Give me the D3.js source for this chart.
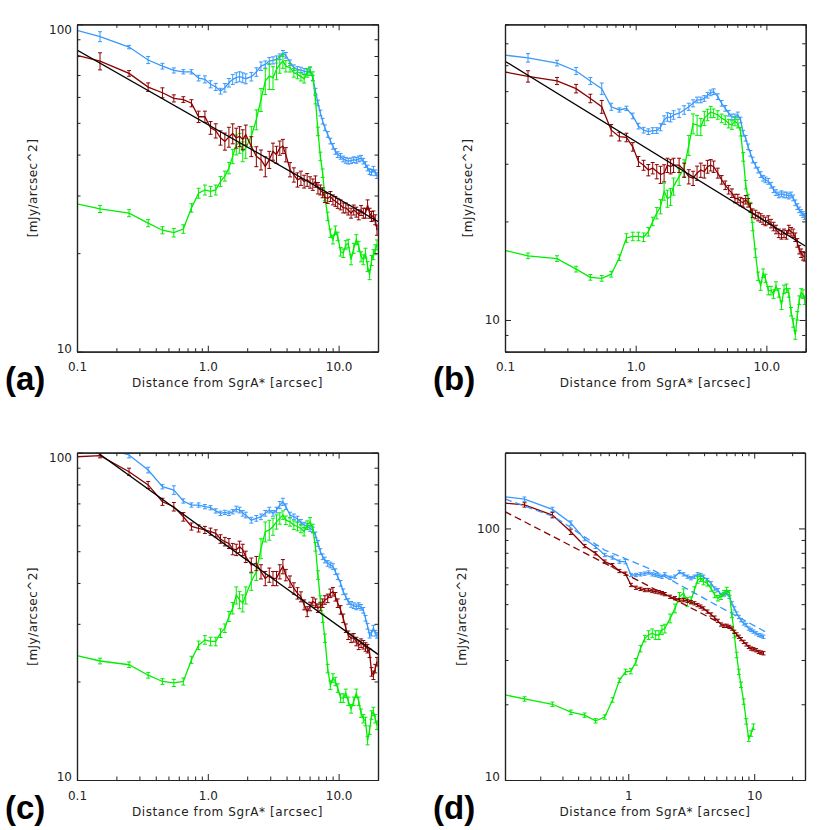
<!DOCTYPE html>
<html>
<head>
<meta charset="utf-8">
<script src="https://cdn.jsdelivr.net/npm/d3@7"></script>
<style>
  body { margin: 0; background: #fff; }
  svg { display: block; }
</style>
</head>
<body>
<svg id="chart" width="830" height="830"></svg>
<script>
// radius grid [arcsec] for panels a, b, c
const xGrid = [0.1, 0.15, 0.25, 0.35, 0.45, 0.55, 0.65, 0.75, 0.85, 0.95,
  1.05, 1.15, 1.25, 1.35, 1.45, 1.55, 1.65, 1.75, 1.85, 1.95,
  2.15, 2.35, 2.55, 2.75, 2.95, 3.15, 3.35, 3.55, 3.75, 3.95,
  4.25, 4.55, 4.85, 5.15, 5.45, 5.75, 6.05, 6.35, 6.65, 6.95,
  7.25, 7.55, 7.85, 8.25, 8.65, 9.05, 9.45, 9.85, 10.35, 10.85, 11.35, 11.85,
  12.45, 13.05, 13.65, 14.25, 14.85, 15.45, 16.05, 16.65, 17.25, 17.85, 18.45, 19.05, 19.65];

// panel d stops earlier
const xGridD = [0.105, 0.15, 0.25, 0.35, 0.45, 0.55, 0.65, 0.75, 0.85, 0.95,
  1.05, 1.15, 1.25, 1.35, 1.45, 1.55, 1.65, 1.75, 1.85, 1.95,
  2.15, 2.35, 2.55, 2.75, 2.95, 3.15, 3.35, 3.55, 3.75, 3.95,
  4.25, 4.55, 4.85, 5.15, 5.45, 5.75, 6.05, 6.35, 6.65, 6.95,
  7.25, 7.55, 7.85, 8.25, 8.65, 9.05, 9.45, 9.85, 10.35, 10.85, 11.35, 11.85];
const xGridDGreen = [0.105, 0.15, 0.25, 0.35, 0.45, 0.55, 0.65, 0.75, 0.85, 0.95,
  1.05, 1.15, 1.25, 1.35, 1.45, 1.55, 1.65, 1.75, 1.85, 1.95,
  2.15, 2.35, 2.55, 2.75, 2.95, 3.15, 3.35, 3.55, 3.75, 3.95,
  4.25, 4.55, 4.85, 5.15, 5.45, 5.75, 6.05, 6.35, 6.65, 6.95,
  7.25, 7.55, 7.85, 8.25, 8.65, 9.05, 9.45, 9.85];

// ---- panel a [mJy/arcsec^2], errors in percent
const blueA = [95.9, 91.7, 85.2, 77.8, 74.5, 72.3, 71.6, 71.6, 68.5, 67.9,
  65.6, 64.4, 62.5, 64.0, 66.3, 67.9, 68.7, 69.2, 68.7, 68.2,
  69.2, 71.5, 74.5, 75.4, 77.2, 77.6, 78.1, 79.6, 81.5, 80.4,
  76.3, 73.7, 72.8, 72.5, 71.9, 71.5, 72.5, 68.5, 62.5, 57.5,
  53.6, 50.6, 48.3, 46.1, 44.0, 42.4, 40.9, 40.0, 39.5, 38.8, 38.4, 38.2,
  38.3, 38.6, 38.4, 38.8, 39.0, 38.2, 37.3, 36.4, 35.5, 35.3, 36.1, 35.2, 34.5];
const blueErrA = [0, 3.5, 1.2, 2.5, 2, 1.8, 1.5, 1.5, 2, 2.5,
  2.5, 2.5, 2, 3, 3, 3.5, 3.5, 3.5, 3.5, 3.5,
  3, 3, 3, 2.5, 2.5, 2.5, 2.5, 2, 2, 2,
  2, 2, 2, 2, 2, 2, 2, 2, 2, 2,
  2, 2, 2, 2, 2, 2, 2, 2, 2, 2, 2, 2,
  2, 2, 2, 2, 2, 2, 2, 2, 2, 2, 2, 2, 2];
const redA = [80.4, 77.2, 70.8, 64.3, 61.8, 59.4, 58.9, 57.4, 52.2, 52.2,
  48.3, 47.3, 45.0, 43.9, 45.3, 46.4, 45.0, 45.5, 44.5, 46.0,
  42.4, 39.5, 38.6, 36.8, 38.6, 40.9, 40.0, 41.9, 42.4, 40.0,
  36.0, 34.7, 33.5, 33.9, 33.1, 33.5, 32.9, 32.4, 33.1, 31.6,
  31.2, 30.6, 29.6, 29.4, 29.8, 29.1, 28.8, 28.4, 28.1, 27.5, 27.5, 27.1,
  26.5, 27.1, 26.7, 26.2, 27.0, 26.5, 26.5, 28.1, 26.5, 25.9, 26.0, 25.3, 23.5];
const redErrA = [0, 6, 2, 3, 3.5, 2.5, 2, 2.5, 4, 4,
  4.5, 5, 5, 6, 7, 7, 7, 7, 7, 7,
  7, 7, 7, 7, 6, 6, 6, 5, 5, 5,
  5, 5, 5, 5, 4.5, 4.5, 4, 4, 4, 4,
  3.5, 3.5, 3.5, 3.5, 3.5, 3.5, 3.5, 3.5, 3.5, 3.5, 3.5, 3.5,
  3.5, 3.5, 3.5, 3.5, 3.5, 3.5, 3.5, 3.5, 3.5, 3.5, 3.5, 3.5, 3.5];
const greenA = [28.3, 27.3, 26.5, 24.7, 23.5, 23.1, 23.7, 27.5, 30.5, 31.2,
  30.9, 31.2, 33.1, 34.4, 36.4, 39.5, 42.9, 43.4, 40.9, 41.9,
  45.5, 51.2, 58.9, 67.1, 69.5, 68.7, 72.8, 75.4, 77.2, 74.5,
  73.7, 71.1, 70.3, 69.2, 68.2, 71.1, 71.9, 69.5, 58.9, 47.1,
  39.5, 35.1, 29.8, 25.9, 23.0, 22.0, 23.5, 22.5, 20.2, 20.0, 21.2, 21.4,
  19.1, 20.7, 22.0, 21.0, 19.5, 19.1, 20.0, 18.2, 17.2, 19.0, 19.8, 20.5, 21.2];
const greenErrA = [0, 2.5, 2.5, 2.5, 2.5, 3, 3, 3, 3.5, 3.5,
  3.5, 3.5, 3.5, 3.5, 4, 5, 7, 7, 7, 7,
  7, 7, 8, 9, 9, 8, 7, 6, 5, 4,
  3, 3, 3, 3, 3, 3, 3, 3, 3, 3,
  3, 3, 3, 3, 3, 3, 3, 3, 3, 3, 3, 3,
  3.5, 3.5, 3.5, 3.5, 3.5, 3.5, 3.5, 3.5, 3.5, 3.5, 3.5, 3.5, 3.5];

// ---- panel b
const blueB = [64.4, 63.2, 60.9, 57.6, 53.7, 50.9, 44.8, 43.8, 44.3, 42.0,
  39.1, 38.0, 37.6, 37.9, 37.9, 38.8, 40.8, 41.7, 41.5, 42.3,
  42.8, 43.8, 44.8, 45.9, 47.0, 47.0, 47.5, 48.6, 49.4, 49.8,
  48.1, 45.9, 44.3, 42.8, 41.7, 41.7, 42.3, 40.8, 37.2, 35.9,
  33.8, 32.3, 30.8, 29.7, 28.7, 27.8, 27.1, 26.8, 26.5, 25.8, 25.0, 24.5,
  24.1, 24.3, 24.1, 24.1, 23.9, 24.1, 23.6, 22.8, 22.2, 21.7, 21.3, 21.0, 20.7];
const blueErrB = [0, 3, 2, 2.5, 2.5, 4, 2.5, 1.5, 1.5, 2,
  2, 2, 2, 2, 2, 2.5, 3, 3, 3, 3,
  3, 3, 2.5, 2.5, 2, 2, 2, 2, 2, 2,
  2, 2, 2, 2, 2, 2, 2, 2, 2, 2,
  2, 2, 2, 2, 2, 2, 2, 2, 2, 2, 2, 2,
  2, 2, 2, 2, 2, 2, 2, 2, 2, 2, 2, 2, 2];
const redB = [57.2, 55.5, 53.7, 50.9, 47.5, 44.8, 38.0, 36.3, 36.1, 33.8,
  30.5, 29.7, 28.7, 29.1, 28.4, 27.8, 28.1, 29.7, 29.4, 29.7,
  29.7, 28.7, 27.4, 27.1, 28.1, 28.7, 28.4, 29.4, 29.7, 29.4,
  28.1, 26.8, 25.8, 25.0, 24.4, 23.5, 23.5, 23.0, 22.8, 23.3,
  22.8, 22.0, 21.2, 21.0, 20.7, 20.5, 20.2, 20.0, 20.2, 19.7, 19.3, 18.9,
  18.4, 18.2, 18.4, 18.2, 18.9, 18.6, 18.4, 17.9, 17.2, 16.4, 16.0, 15.7, 15.6];
const redErrB = [0, 4, 2.5, 3, 3, 4.5, 4, 3, 3, 3,
  3.5, 3.5, 4, 4, 5, 6, 6, 5, 5, 5,
  5, 5, 5, 5, 5, 5, 4.5, 4.5, 4, 4,
  3.5, 3, 3, 3, 3, 3, 3, 3, 3, 3,
  3, 3, 3, 3, 3, 3, 3, 3, 3, 3, 3, 3,
  3, 3, 3, 3, 3, 3, 3, 3, 3, 3, 3, 3, 3];
const greenB = [16.3, 15.7, 15.4, 14.3, 13.5, 13.4, 13.8, 15.5, 17.8, 18.0,
  18.0, 17.9, 18.6, 20.0, 21.2, 22.2, 24.7, 23.5, 23.8, 25.6,
  27.4, 29.1, 34.2, 39.8, 39.4, 38.9, 41.3, 42.3, 43.2, 42.8,
  42.3, 41.3, 40.8, 39.8, 39.4, 40.4, 39.8, 37.6, 31.5, 25.9,
  23.5, 22.2, 19.3, 16.0, 13.6, 12.7, 13.9, 13.4, 12.3, 12.3, 12.0, 12.7,
  12.1, 11.1, 12.4, 12.5, 12.1, 10.6, 9.8, 9.0, 10.3, 11.5, 12.1, 12.0, 11.5];
const greenErrB = [0, 2, 2, 2, 2, 2, 2, 2, 3, 3,
  3, 3, 3, 3, 4, 5, 6, 6, 6, 6,
  6, 6, 7, 7, 7, 6, 5, 4, 4, 3,
  3, 3, 3, 3, 3, 3, 3, 3, 3, 3,
  3, 3, 3, 3, 3, 3, 3, 3, 3, 3, 3, 3,
  3, 3, 3, 3, 3, 3, 3, 3, 3, 3, 3, 3, 3];

// ---- panel c
const blueC = [110, 104, 98.4, 88.5, 78.7, 76.9, 71.2, 69.2, 69.2, 68.4,
  67.9, 66.4, 65.3, 65.7, 65.3, 66.0, 67.3, 66.8, 65.3, 64.5,
  62.2, 63.0, 63.7, 65.3, 66.8, 65.3, 66.8, 69.2, 70.8, 68.4,
  64.5, 63.7, 62.7, 61.3, 60.1, 59.5, 58.7, 58.1, 56.1, 52.8,
  49.9, 48.1, 47.0, 45.9, 45.4, 44.9, 43.3, 41.8, 39.9, 37.6, 36.3, 35.1,
  34.4, 34.1, 33.8, 34.1, 33.7, 33.0, 31.2, 29.5, 27.7, 28.1, 29.1, 28.1, 27.7];
const blueErrC = [0, 2, 2, 2, 1.5, 3, 1.5, 1.5, 1.5, 1.5,
  1.5, 1.5, 1.5, 1.5, 1.5, 1.5, 2, 2, 2, 2,
  2, 2, 2, 2, 2, 2, 2, 2.5, 2.5, 2,
  2, 2, 2, 2, 2, 2, 2, 2, 2, 2,
  2, 2, 2, 2, 2, 2, 2, 2, 2, 2, 2, 2,
  2, 2, 2, 2, 2, 2, 2, 2, 2, 2, 2, 2, 2];
const redC = [97.2, 97.9, 87.5, 79.7, 70.8, 68.4, 63.7, 59.5, 58.7, 58.1,
  57.4, 56.7, 54.5, 53.5, 52.8, 50.8, 50.5, 51.6, 50.5, 48.1,
  45.4, 45.9, 43.3, 41.3, 42.3, 41.3, 41.3, 43.3, 44.9, 42.3,
  40.4, 38.5, 37.2, 36.3, 34.3, 32.7, 33.9, 35.1, 34.7, 33.5,
  33.9, 34.7, 35.5, 35.9, 37.2, 37.6, 36.3, 34.7, 33.1, 31.2, 29.1, 27.7,
  27.1, 27.2, 26.5, 25.8, 26.2, 25.9, 25.5, 25.2, 24.4, 21.4, 20.9, 21.9, 23.0];
const redErrC = [0, 1.5, 2.5, 2.5, 2.5, 3, 3, 2.5, 2.5, 2.5,
  2.5, 2.5, 3, 3, 3.5, 4, 4, 4, 4, 4,
  5, 5, 5, 5, 5, 5, 5, 5, 5, 4,
  4, 4, 4, 3.5, 3.5, 3.5, 3, 3, 3, 3,
  3, 3, 3, 3, 3, 3, 3, 3, 3, 3, 3, 3,
  3, 3, 3, 3, 3, 3, 3, 3, 3, 3, 3, 3, 3];
const greenC = [24.0, 23.1, 22.5, 20.9, 20.0, 19.8, 20.0, 23.3, 25.8, 26.8,
  26.5, 26.5, 28.1, 29.1, 31.6, 33.5, 36.7, 35.5, 34.7, 36.7,
  40.4, 43.3, 51.0, 57.4, 58.1, 59.5, 61.5, 63.0, 64.5, 62.2,
  61.5, 60.1, 59.5, 58.7, 57.4, 60.1, 61.5, 58.7, 51.6, 42.3,
  35.5, 31.2, 27.1, 21.9, 19.5, 20.5, 20.0, 19.1, 17.8, 17.8, 18.4, 17.4,
  16.5, 17.4, 18.4, 17.4, 16.0, 15.4, 15.1, 13.2, 14.2, 15.8, 16.2, 15.4, 14.7];
const greenErrC = [0, 2, 2, 2, 2, 2.5, 2.5, 2.5, 3, 3,
  3, 3, 3, 3, 3.5, 4, 6, 6, 6, 6,
  6, 6, 7, 7, 7, 6, 5, 4, 3, 3,
  3, 3, 3, 3, 3, 3, 3, 3, 3, 3,
  3, 3, 3, 3, 3, 3, 3, 3, 3, 3, 3, 3,
  3, 3, 3, 3, 3, 3, 3, 3, 3, 3, 3, 3, 3];

// ---- panel d
const blueD = [133.6, 130.7, 119, 105, 90.7, 84.5, 78.4, 76.6, 73.8, 73.8,
  65.3, 65.3, 65.7, 66.1, 66.8, 65.7, 65.3, 64.9, 64.3, 65.7,
  63.7, 64.3, 67.1, 65.7, 64.3, 63.4, 64.3, 65.7, 65.3, 64.3,
  62.4, 60.5, 57.7, 56.9, 54.4, 54.7, 55.3, 53.5, 50.4, 48.1,
  45.9, 44.5, 43.2, 41.9, 41.3, 40.0, 39.5, 38.9, 38.3, 37.7, 37.5, 37.1];
const blueErrD = [0, 2, 2, 2, 1.5, 1.5, 1.5, 1.5, 1.5, 2,
  1.5, 1.5, 1.5, 1.5, 1.5, 1.5, 1.5, 1.5, 1.5, 1.5,
  1.5, 1.5, 1.5, 1.5, 1.5, 1.5, 1.5, 1.5, 1.5, 1.5,
  1.5, 1.5, 1.5, 1.5, 1.5, 1.5, 1.5, 1.5, 1.5, 1.5,
  1.5, 1.5, 1.5, 1.5, 1.5, 1.5, 1.5, 1.5, 1.5, 1.5, 1.5, 1.5];
const redD = [126, 124, 113, 97.0, 85.1, 79.6, 73.8, 71.5, 67.7, 66.1,
  59.6, 58.1, 57.5, 56.9, 56.9, 56.4, 56.1, 55.8, 55.3, 54.8,
  53.5, 52.8, 51.9, 51.9, 51.5, 50.9, 50.4, 49.6, 48.9, 48.1,
  46.7, 45.5, 44.2, 42.9, 41.5, 41.0, 41.0, 40.6, 40.0, 38.8,
  37.9, 37.1, 36.3, 35.4, 34.6, 33.8, 33.3, 33.1, 32.8, 32.3, 32.1, 31.9];
const redErrD = [0, 2, 2.5, 2.5, 1.5, 1.5, 1.5, 1.5, 1.5, 1.5,
  1.5, 1.5, 1.5, 1.5, 1.5, 1.5, 1.5, 1.5, 1.5, 1.5,
  1.5, 1.5, 1.5, 1.5, 1.5, 1.5, 1.5, 1.5, 1.5, 1.5,
  1.5, 1.5, 1.5, 1.5, 1.5, 1.5, 1.5, 1.5, 1.5, 1.5,
  1.5, 1.5, 1.5, 1.5, 1.5, 1.5, 1.5, 1.5, 1.5, 1.5, 1.5, 1.5];
const greenD = [21.8, 21.0, 20.0, 18.6, 18.1, 17.2, 17.8, 20.8, 24.9, 26.9,
  27.1, 29.5, 33.3, 36.5, 37.7, 38.3, 37.7, 37.7, 39.5, 40.0,
  43.9, 48.1, 53.5, 55.3, 51.1, 51.9, 56.9, 62.4, 63.4, 61.5,
  60.5, 57.7, 54.4, 52.8, 53.5, 55.3, 56.9, 55.3, 45.3, 37.7,
  31.4, 26.9, 23.9, 20.5, 17.1, 14.6, 15.3, 16.3];
const greenErrD = [0, 2, 2, 2, 2, 2, 2, 2, 2, 2.5,
  2.5, 3, 3, 3, 4, 4, 4, 4, 4, 4,
  4, 4, 4, 4, 4, 3, 3, 3, 3, 3,
  2.5, 2.5, 2.5, 2.5, 2.5, 2.5, 2.5, 2.5, 2.5, 2.5,
  2.5, 2.5, 2.5, 2.5, 2.5, 2.5, 2.5, 2.5];

// power-law fits
const fitX = [0.1, 20];
const fitA = [83.5, 25.0];
const fitB = [61.7, 16.8];
const fitC = [111, 24.2];
const fitRedDX = [0.105, 5.3];
const fitRedD = [116.6, 42.2];
const fitBlueDX = [0.105, 0.26, 0.65, 1.6, 4.2, 12.2];
const fitBlueD = [131, 111, 82, 68, 52, 38.9];

// tick labels
const xTicksABC = [0.1, 1, 10];
const xTickLabelsABC = ["0.1", "1.0", "10.0"];
const xTicksD = [1, 10];
const xTickLabelsD = ["1", "10"];
const yTicksAC = [10, 100];
const yTickLabelsAC = ["10", "100"];
const yTicksB = [10];
const yTickLabelsB = ["10"];
const yTicksD = [10, 100];
const yTickLabelsD = ["10", "100"];

const colBlue = "#3a98fb";
const colRed = "#8b0000";
const colGreen = "#00ee00";

let svg = d3.select("#chart");

function isDecade(t) {
  let l = Math.log10(t);
  return Math.abs(l - Math.round(l)) < 1e-6;
}

function styleAxis(g) {
  g.attr("color", "#222")
    .attr("font-family", "DejaVu Sans, sans-serif")
    .attr("font-size", 12);
  g.select(".domain").attr("stroke-width", 1.2);
  g.selectAll(".tick line").attr("stroke-width", 1);
}

function drawPanel(p, idx) {
  let g = svg.append("g");
  let scaleX = d3.scaleLog().domain(p.xDomain).range([p.left, p.right]);
  let scaleY = d3.scaleLog().domain(p.yDomain).range([p.bottom, p.top]);

  g.append("clipPath").attr("id", "clip" + idx)
    .append("rect")
    .attr("x", p.left).attr("y", p.top)
    .attr("width", p.right - p.left).attr("height", p.bottom - p.top);
  let plot = g.append("g").attr("clip-path", `url(#clip${idx})`);

  let line = d3.line().x(d => scaleX(d[0])).y(d => scaleY(d[1]));

  p.series.forEach(s => {
    let pts = s.x.map((x, i) => [x, s.y[i], s.err[i]]);
    plot.append("path")
      .attr("d", line(pts))
      .attr("fill", "none")
      .attr("stroke", s.color)
      .attr("stroke-width", 1.3);
    let bars = "";
    pts.filter(d => d[2] > 0).forEach(d => {
      let x = scaleX(d[0]);
      let y1 = scaleY(d[1] * (1 - d[2] / 100));
      let y2 = scaleY(d[1] * (1 + d[2] / 100));
      bars += `M${x},${y1}V${y2}M${x - 2},${y1}H${x + 2}M${x - 2},${y2}H${x + 2}`;
    });
    plot.append("path")
      .attr("d", bars)
      .attr("fill", "none")
      .attr("stroke", s.color)
      .attr("stroke-width", 1);
  });

  p.fits.forEach(f => {
    plot.append("path")
      .attr("d", line(f.x.map((x, i) => [x, f.y[i]])))
      .attr("fill", "none")
      .attr("stroke", f.color)
      .attr("stroke-width", 1.3)
      .attr("stroke-dasharray", f.dash);
  });

  let minorX = scaleX.ticks().filter(t => !isDecade(t));
  let minorY = scaleY.ticks().filter(t => !isDecade(t));

  // bottom
  g.append("g").attr("transform", `translate(0,${p.bottom})`)
    .call(d3.axisBottom(scaleX).tickValues(p.xTicks)
      .tickFormat((d, i) => p.xLabels[i])
      .tickSizeInner(-6).tickSizeOuter(0).tickPadding(11))
    .call(styleAxis);
  g.append("g").attr("transform", `translate(0,${p.bottom})`)
    .call(d3.axisBottom(scaleX).tickValues(minorX).tickFormat("")
      .tickSizeInner(-3.5).tickSizeOuter(0))
    .call(styleAxis);
  // top
  g.append("g").attr("transform", `translate(0,${p.top})`)
    .call(d3.axisTop(scaleX).tickValues(p.xTicks).tickFormat("")
      .tickSizeInner(-6).tickSizeOuter(0))
    .call(styleAxis);
  g.append("g").attr("transform", `translate(0,${p.top})`)
    .call(d3.axisTop(scaleX).tickValues(minorX).tickFormat("")
      .tickSizeInner(-3.5).tickSizeOuter(0))
    .call(styleAxis);
  // left
  let leftAxis = g.append("g").attr("transform", `translate(${p.left},0)`)
    .call(d3.axisLeft(scaleY).tickValues(p.yTicks)
      .tickFormat((d, i) => p.yLabels[i])
      .tickSizeInner(-6).tickSizeOuter(0).tickPadding(5))
    .call(styleAxis);
  leftAxis.selectAll(".tick text")
    .attr("y", d => {
      let ty = scaleY(d);
      return Math.min(Math.max(ty, p.top + 5), p.bottom - 3.5) - ty;
    });
  g.append("g").attr("transform", `translate(${p.left},0)`)
    .call(d3.axisLeft(scaleY).tickValues(minorY).tickFormat("")
      .tickSizeInner(-3.5).tickSizeOuter(0))
    .call(styleAxis);
  // right
  g.append("g").attr("transform", `translate(${p.right},0)`)
    .call(d3.axisRight(scaleY).tickValues(p.yTicks).tickFormat("")
      .tickSizeInner(-6).tickSizeOuter(0))
    .call(styleAxis);
  g.append("g").attr("transform", `translate(${p.right},0)`)
    .call(d3.axisRight(scaleY).tickValues(minorY).tickFormat("")
      .tickSizeInner(-3.5).tickSizeOuter(0))
    .call(styleAxis);

  g.append("text")
    .attr("x", (p.left + p.right) / 2)
    .attr("y", p.bottom + 35.5)
    .attr("text-anchor", "middle")
    .attr("font-family", "DejaVu Sans, sans-serif")
    .attr("font-size", 12)
    .attr("letter-spacing", 0.6)
    .attr("fill", "#222")
    .text("Distance from SgrA* [arcsec]");

  g.append("text")
    .attr("transform", `translate(${p.left - p.yTitleGap},${(p.top + p.bottom) / 2}) rotate(-90)`)
    .attr("text-anchor", "middle")
    .attr("dominant-baseline", "central")
    .attr("font-family", "DejaVu Sans, sans-serif")
    .attr("font-size", 12)
    .attr("letter-spacing", 0.45)
    .attr("fill", "#222")
    .text("[mJy/arcsec^2]");

  g.append("text")
    .attr("x", p.left - 72)
    .attr("y", p.bottom + 38.5)
    .attr("font-family", "Liberation Sans, Arial, sans-serif")
    .attr("font-weight", "bold")
    .attr("font-size", 33)
    .attr("fill", "#000")
    .text(p.letter);
}

let panels = [
  {
    letter: "(a)", left: 77, right: 378, top: 24.3, bottom: 351.7,
    xDomain: [0.1, 20], yDomain: [10, 100],
    xTicks: xTicksABC, xLabels: xTickLabelsABC, yTicks: yTicksAC, yLabels: yTickLabelsAC,
    yTitleGap: 44,
    series: [
      {x: xGrid, y: blueA, err: blueErrA, color: colBlue},
      {x: xGrid, y: greenA, err: greenErrA, color: colGreen},
      {x: xGrid, y: redA, err: redErrA, color: colRed}
    ],
    fits: [{x: fitX, y: fitA, color: "#000", dash: null}]
  },
  {
    letter: "(b)", left: 505, right: 805.7, top: 24.3, bottom: 351.7,
    xDomain: [0.1, 20], yDomain: [8, 80],
    xTicks: xTicksABC, xLabels: xTickLabelsABC, yTicks: yTicksB, yLabels: yTickLabelsB,
    yTitleGap: 37,
    series: [
      {x: xGrid, y: blueB, err: blueErrB, color: colBlue},
      {x: xGrid, y: greenB, err: greenErrB, color: colGreen},
      {x: xGrid, y: redB, err: redErrB, color: colRed}
    ],
    fits: [{x: fitX, y: fitB, color: "#000", dash: null}]
  },
  {
    letter: "(c)", left: 77, right: 378, top: 452.7, bottom: 780,
    xDomain: [0.1, 20], yDomain: [10, 100],
    xTicks: xTicksABC, xLabels: xTickLabelsABC, yTicks: yTicksAC, yLabels: yTickLabelsAC,
    yTitleGap: 44,
    series: [
      {x: xGrid, y: blueC, err: blueErrC, color: colBlue},
      {x: xGrid, y: greenC, err: greenErrC, color: colGreen},
      {x: xGrid, y: redC, err: redErrC, color: colRed}
    ],
    fits: [{x: fitX, y: fitC, color: "#000", dash: null}]
  },
  {
    letter: "(d)", left: 505, right: 805, top: 452.7, bottom: 780,
    xDomain: [0.105, 25.3], yDomain: [10, 200],
    xTicks: xTicksD, xLabels: xTickLabelsD, yTicks: yTicksD, yLabels: yTickLabelsD,
    yTitleGap: 43,
    series: [
      {x: xGridD, y: blueD, err: blueErrD, color: colBlue},
      {x: xGridDGreen, y: greenD, err: greenErrD, color: colGreen},
      {x: xGridD, y: redD, err: redErrD, color: colRed}
    ],
    fits: [
      {x: fitRedDX, y: fitRedD, color: colRed, dash: "7,4"},
      {x: fitBlueDX, y: fitBlueD, color: colBlue, dash: "7,4"}
    ]
  }
];

panels.forEach((p, i) => drawPanel(p, i));
</script>
</body>
</html>
